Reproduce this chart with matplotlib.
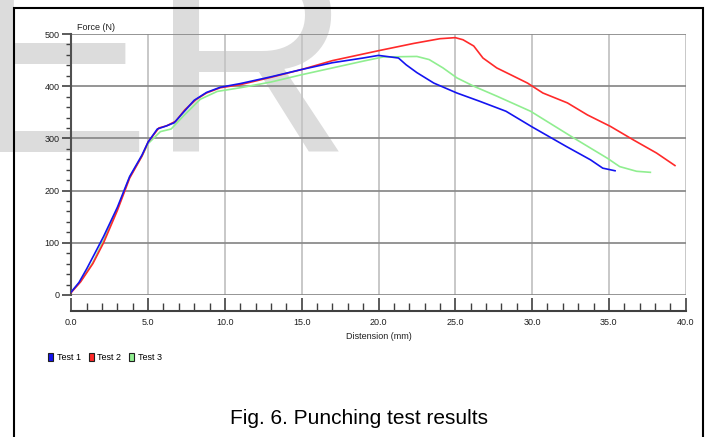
import matplotlib
matplotlib.use("Agg")
import matplotlib.pyplot as plt
from matplotlib.patches import Rectangle, Patch
from matplotlib.ticker import MultipleLocator, FormatStrFormatter

# Test 1 (blue)
t1_x = [0.0, 0.5, 1.0, 1.5, 2.1, 3.0, 3.8, 4.6, 5.0, 5.6, 6.2, 6.7, 7.3, 8.0, 8.8, 9.7,
        11.0, 13.0, 15.0, 17.0, 19.0, 20.0, 21.3, 21.8, 22.5, 23.6, 25.1, 26.6, 28.3,
        30.0, 32.2, 33.8, 34.6, 35.4]
t1_y = [6, 24, 50, 78, 112, 168, 227, 268, 293, 318, 324, 330, 350, 373, 388, 398,
        405, 418, 432, 445, 454, 459, 454, 441, 426, 406, 387, 371, 352,
        322, 285, 259, 243, 238]

# Test 2 (red)
t2_x = [0.0, 0.6, 1.4, 2.1, 3.0, 3.8, 4.6, 5.0, 5.7, 6.2, 6.8, 7.4, 8.1, 8.8, 9.7,
        11.0, 13.0, 15.0, 17.0, 20.0, 22.3, 24.0, 25.0, 25.5, 26.2, 26.8, 27.7, 28.6,
        29.7, 30.7, 32.3, 33.6, 35.1, 36.6, 38.1, 39.3]
t2_y = [5, 25, 60, 100, 162, 224, 266, 293, 320, 324, 333, 355, 374, 387, 397,
        403, 417, 432, 449, 468, 482, 491, 493, 489, 477, 454, 435, 422,
        406, 387, 368, 345, 323, 297, 272, 248]

# Test 3 (green)
t3_x = [0.0, 0.6, 1.4, 2.1, 3.0, 3.8, 4.6, 5.0, 5.8, 6.5, 7.3, 8.4, 9.5, 11.0, 13.0,
        15.0, 17.0, 19.0, 20.3, 22.5, 23.3, 24.2, 25.1, 26.2, 27.7, 29.9, 32.7, 34.9,
        35.7, 36.8, 37.7]
t3_y = [6, 26, 62, 105, 165, 226, 266, 290, 313, 318, 343, 375, 390, 397, 408,
        422, 435, 448, 456, 457, 451, 435, 416, 400, 381, 352, 301, 262,
        246, 237, 235]

series = [("Test 1", t1_x, t1_y, "#1414f0"),
          ("Test 2", t2_x, t2_y, "#ff2a2a"),
          ("Test 3", t3_x, t3_y, "#90ee90")]

FONT = "Liberation Sans"
W, H = 707, 437

fig = plt.figure(figsize=(W / 100, H / 100), dpi=100)
fig.patch.set_facecolor("white")

# faint watermark behind everything
fig.text(-36 / W, 1 - 152 / H, "ER", fontsize=201, color="#dcdcdc",
         family=FONT, ha="left", va="baseline", zorder=-5)

ax = fig.add_axes([71.3 / W, 1 - 295 / H, 614.4 / W, 261 / H])
ax.set_facecolor("none")

for name, xs, ys, c in series[::-1]:
    ax.plot(xs, ys, color=c, lw=1.2, label=name, zorder=3)

ax.set_xlim(0, 40)
ax.set_ylim(0, 500)
ax.xaxis.set_major_locator(MultipleLocator(5))
ax.xaxis.set_minor_locator(MultipleLocator(1))
ax.yaxis.set_major_locator(MultipleLocator(100))
ax.yaxis.set_minor_locator(MultipleLocator(20))
ax.xaxis.set_major_formatter(FormatStrFormatter("%.1f"))

ax.grid(True, which="major", color="#c4c4c4", lw=1.3, zorder=1)
dark_x = [5, 35]
dark_y = [0, 100, 300, 400]
for t in ax.xaxis.get_major_ticks():
    if t.get_loc() in dark_x:
        t.gridline.set_color("#8c8c8c")
for t in ax.yaxis.get_major_ticks():
    if t.get_loc() in dark_y:
        t.gridline.set_color("#8c8c8c")
    elif t.get_loc() == 500:
        t.gridline.set_color("#a8a8a8")

for s in ["top", "right"]:
    ax.spines[s].set_visible(False)
ax.spines["left"].set_color("#505050")
ax.spines["left"].set_linewidth(1.5)
ax.spines["bottom"].set_color("#404040")
ax.spines["bottom"].set_linewidth(1.5)
ax.spines["bottom"].set_position(("outward", 11.5))

ax.tick_params(axis="x", which="major", direction="in", length=9.5, width=1.2,
               color="#404040", pad=5, labelsize=6.5)
ax.tick_params(axis="x", which="minor", direction="in", length=5.8, width=1.0,
               color="#404040")
ax.tick_params(axis="y", which="major", direction="out", length=6.5, width=1.2,
               color="#404040", pad=2, labelsize=6.5)
ax.tick_params(axis="y", which="minor", direction="out", length=3.6, width=1.0,
               color="#404040")
for lab in ax.get_xticklabels() + ax.get_yticklabels():
    lab.set_family(FONT)
    lab.set_color("#202020")

ax.set_xlabel("Distension (mm)", fontsize=6.5, family=FONT, color="#202020",
              va="center")
ax.xaxis.set_label_coords(0.5, -(336.7 - 295) / 261)
ax.annotate("Force (N)", xy=(0, 1), xycoords="axes fraction", xytext=(4, 5),
            textcoords="offset points", ha="left", va="center",
            fontsize=6.5, family=FONT, color="#202020")

handles = [Patch(facecolor=c, edgecolor="#202020", lw=0.8, label=n)
           for n, _, _, c in series]
fig.legend(handles=handles, loc="center left",
           bbox_to_anchor=(48 / W, 1 - 357.5 / H), ncol=3, frameon=False,
           prop={"family": FONT, "size": 6.5}, handlelength=0.55,
           handleheight=1.1, handletextpad=0.4, columnspacing=0.9,
           borderpad=0, borderaxespad=0)

fig.text(358.5 / W, 13 / H, "Fig. 6. Punching test results", fontsize=15,
         family=FONT, ha="center", va="baseline", color="black")

# outer frame (open at the bottom edge of the image)
fig.add_artist(Rectangle((14.3 / W, -0.05), (703.3 - 14.3) / W, 1.05 - 8.3 / H,
                         transform=fig.transFigure, fill=False,
                         edgecolor="black", lw=1.5))

fig.savefig("out.png", dpi=100)
